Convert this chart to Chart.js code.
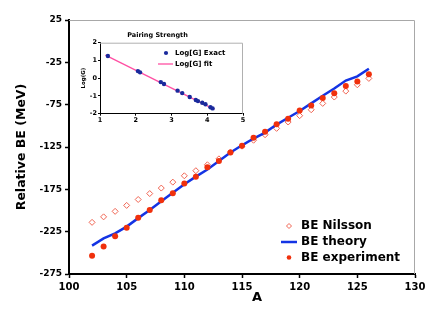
<!DOCTYPE html>
<html><head><meta charset="utf-8">
<script src="https://cdn.jsdelivr.net/npm/chart.js@4"></script>
<style>
html,body{margin:0;padding:0;background:#fff;}
#wrap{position:relative;width:432px;height:310px;overflow:hidden;}
#main{position:absolute;left:0;top:0;}
#inset{position:absolute;left:72px;top:26px;}
</style></head><body>
<div id="wrap"><canvas id="main" width="432" height="310"></canvas><canvas id="inset" width="196" height="102"></canvas></div>
<script>
// ---- main chart data ----
const massNumbers = [102,103,104,105,106,107,108,109,110,111,112,113,114,115,116,117,118,119,120,121,122,123,124,125,126];
const beNilsson = [-214,-207.5,-201,-194,-187,-180,-173.5,-166.5,-159,-153,-146,-139,-131,-124,-117,-110.5,-103,-95.5,-88,-81,-73.5,-66,-59,-51.5,-44];
const beTheory = [-241.5,-233,-227,-219,-209,-199.5,-189,-179,-169,-160,-151.5,-141.5,-131.5,-123,-115,-108,-98.5,-90.5,-82.5,-73.5,-64.5,-56,-46.5,-41.5,-32.5];
const beExperiment = [-253.5,-242.5,-230.5,-220.5,-208.5,-199.5,-188,-179.5,-168,-160,-149,-141.5,-131.5,-123.5,-114,-107,-98,-91.5,-82,-76,-67,-61.5,-53,-47.5,-39];
const seriesNames = ['BE Nilsson','BE theory','BE experiment'];
const xTickValues = [100,105,110,115,120,125,130];
const yTickValues = [-275,-225,-175,-125,-75,-25,25];

// ---- inset data ----
const logDim = [1.22,2.06,2.12,2.70,2.79,3.17,3.30,3.51,3.68,3.74,3.86,3.95,4.09,4.15];
const logGExact = [1.25,0.40,0.33,-0.22,-0.33,-0.70,-0.84,-1.06,-1.23,-1.29,-1.38,-1.47,-1.64,-1.70];
const fitLogDim = [1.15,4.2];
const fitLogG = [1.30,-1.76];
const insetNames = ['Log[G] Exact','Log[G] fit'];
const insetXTicks = [1,2,3,4,5];
const insetYTicks = [-2,-1,0,1,2];

const FONT = "'DejaVu Sans', Verdana, sans-serif";
Chart.defaults.font.family = FONT;
Chart.defaults.color = '#000';

const zip = (xs, ys) => xs.map((x, i) => ({x: x, y: ys[i]}));

const C_NIL = '#f06452';
const C_TH = '#1434e4';
const C_EX = '#f0300c';

const mainDecor = {
  id: 'mainDecor',
  afterDraw(chart) {
    const ctx = chart.ctx, a = chart.chartArea;
    ctx.save();
    // gray plot-area frame top/right
    ctx.strokeStyle = '#a8a8a8'; ctx.lineWidth = 1;
    ctx.beginPath();
    ctx.moveTo(a.left, a.top + 0.5); ctx.lineTo(a.right - 0.5, a.top + 0.5); ctx.lineTo(a.right - 0.5, a.bottom);
    ctx.stroke();
    // x axis title
    ctx.fillStyle = '#000';
    ctx.font = 'bold 13px ' + FONT;
    ctx.textAlign = 'center'; ctx.textBaseline = 'middle';
    ctx.fillText('A', 257, 298);
    // legend
    ctx.font = 'bold 12px ' + FONT;
    ctx.textAlign = 'left';
    const ys = [226, 242, 257.5];
    ctx.fillText(seriesNames[0], 301, ys[0]);
    ctx.fillText(seriesNames[1], 301, ys[1]);
    ctx.fillText(seriesNames[2], 301, ys[2]);
    // Nilsson marker
    ctx.strokeStyle = C_NIL; ctx.fillStyle = '#fff'; ctx.lineWidth = 1;
    ctx.beginPath();
    ctx.moveTo(289, ys[0] - 2.5); ctx.lineTo(291.5, ys[0]); ctx.lineTo(289, ys[0] + 2.5); ctx.lineTo(286.5, ys[0]); ctx.closePath();
    ctx.fill(); ctx.stroke();
    // theory line
    ctx.strokeStyle = C_TH; ctx.lineWidth = 2.5;
    ctx.beginPath(); ctx.moveTo(281, ys[1]); ctx.lineTo(297, ys[1]); ctx.stroke();
    // experiment dot
    ctx.fillStyle = C_EX;
    ctx.beginPath(); ctx.arc(289, ys[2], 2.3, 0, Math.PI * 2); ctx.fill();
    ctx.restore();
  }
};

new Chart(document.getElementById('main'), {
  type: 'scatter',
  data: {
    datasets: [
      { label: seriesNames[2], data: zip(massNumbers, beExperiment), order: 0,
        pointStyle: 'circle', pointRadius: 3, backgroundColor: C_EX, borderColor: C_EX, borderWidth: 0, showLine: false },
      { label: seriesNames[1], data: zip(massNumbers, beTheory), order: 1,
        showLine: true, borderColor: C_TH, borderWidth: 2.5, pointRadius: 0, fill: false, tension: 0 },
      { label: seriesNames[0], data: zip(massNumbers, beNilsson), order: 2,
        pointStyle: 'rectRot', pointRadius: 3, backgroundColor: '#fff', borderColor: C_NIL, borderWidth: 1, showLine: false }
    ]
  },
  options: {
    responsive: false, animation: false, devicePixelRatio: 1,
    layout: { padding: { top: 20, right: 17, left: 0, bottom: 0 } },
    plugins: { legend: { display: false }, tooltip: { enabled: false }, title: { display: false } },
    scales: {
      x: {
        type: 'linear', min: 100, max: 130,
        afterFit(s) { s.height = 36; },
        afterBuildTicks(s) { s.ticks = xTickValues.map(v => ({value: v})); },
        grid: { drawOnChartArea: false, drawTicks: true, tickLength: 4, color: '#000', tickWidth: 1.5 },
        border: { display: true, color: '#000', width: 2 },
        ticks: { padding: 3, font: { size: 10, weight: 'bold' }, color: '#000', maxRotation: 0 }
      },
      y: {
        type: 'linear', min: -275, max: 25,
        afterFit(s) { s.width = 69; },
        afterBuildTicks(s) { s.ticks = yTickValues.map(v => ({value: v})); },
        grid: { drawOnChartArea: false, drawTicks: true, tickLength: 4, color: '#000', tickWidth: 1.5 },
        border: { display: true, color: '#000', width: 2 },
        ticks: { padding: 3, font: { size: 9, weight: 'bold' }, color: '#000' },
        title: { display: true, text: 'Relative BE (MeV)', font: { size: 12.5, weight: 'bold' }, color: '#000', padding: { top: 14.5, bottom: 0 } }
      }
    }
  },
  plugins: [mainDecor]
});

const insetDecor = {
  id: 'insetDecor',
  afterDraw(chart) {
    const ctx = chart.ctx, a = chart.chartArea;
    ctx.save();
    ctx.strokeStyle = '#b0b0b0'; ctx.lineWidth = 1;
    ctx.beginPath();
    ctx.moveTo(a.left, a.top + 0.5); ctx.lineTo(a.right - 0.5, a.top + 0.5); ctx.lineTo(a.right - 0.5, a.bottom);
    ctx.stroke();
    // legend (canvas-relative coords)
    ctx.fillStyle = '#000';
    ctx.font = 'bold 7px ' + FONT;
    ctx.textAlign = 'left'; ctx.textBaseline = 'middle';
    ctx.fillText(insetNames[0], 103, 27);
    ctx.fillText(insetNames[1], 103, 38);
    ctx.fillStyle = '#1a2a9c';
    ctx.beginPath(); ctx.arc(94, 27, 2.1, 0, Math.PI * 2); ctx.fill();
    ctx.strokeStyle = '#ff4fa3'; ctx.lineWidth = 1.3;
    ctx.beginPath(); ctx.moveTo(86, 38); ctx.lineTo(101, 38); ctx.stroke();
    ctx.restore();
  }
};

new Chart(document.getElementById('inset'), {
  type: 'scatter',
  data: {
    datasets: [
      { label: insetNames[0], data: zip(logDim, logGExact), order: 0,
        pointStyle: 'circle', pointRadius: 2.2, backgroundColor: '#1a2a9c', borderWidth: 0, showLine: false },
      { label: insetNames[1], data: zip(fitLogDim, fitLogG), order: 1,
        showLine: true, borderColor: '#ff4fa3', borderWidth: 1.3, pointRadius: 0, fill: false }
    ]
  },
  options: {
    responsive: false, animation: false, devicePixelRatio: 1,
    layout: { padding: { top: 0, right: 25, left: 0, bottom: 0 } },
    plugins: {
      legend: { display: false }, tooltip: { enabled: false },
      title: { display: true, text: 'Pairing Strength', color: '#000', font: { size: 6.5, weight: 'bold' }, padding: { top: 5, bottom: 3.9 } }
    },
    scales: {
      x: {
        type: 'linear', min: 1, max: 5,
        afterFit(s) { s.height = 14.3; },
        afterBuildTicks(s) { s.ticks = insetXTicks.map(v => ({value: v})); },
        grid: { drawOnChartArea: false, drawTicks: true, tickLength: 2, color: '#000' },
        border: { display: true, color: '#000', width: 1 },
        ticks: { padding: 1, font: { size: 6.5, weight: 'bold' }, color: '#000', maxRotation: 0 }
      },
      y: {
        type: 'linear', min: -2, max: 2,
        afterFit(s) { s.width = 28; },
        afterBuildTicks(s) { s.ticks = insetYTicks.map(v => ({value: v})); },
        grid: { drawOnChartArea: false, drawTicks: true, tickLength: 2, color: '#000' },
        border: { display: true, color: '#000', width: 1 },
        ticks: { padding: 1, font: { size: 6.5, weight: 'bold' }, color: '#000' },
        title: { display: true, text: 'Log(G)', font: { size: 5.5, weight: 'bold' }, color: '#000', padding: { top: 8.7, bottom: 0 } }
      }
    }
  },
  plugins: [insetDecor]
});
</script>
</body></html>
